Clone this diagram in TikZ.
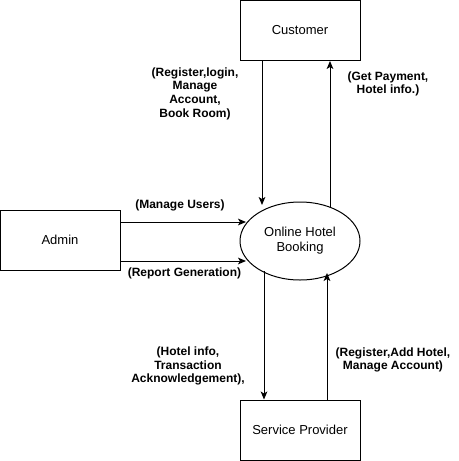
\documentclass[tikz,border=0pt]{standalone}
\usepackage{fontspec}
\setmainfont{Liberation Sans}
\usetikzlibrary{arrows.meta,shapes.geometric}
\begin{document}
\begin{tikzpicture}[x=0.75pt,y=-0.75pt,
  box/.style={draw,line width=0.75pt,minimum width=90pt,minimum height=45pt,inner sep=0pt,font=\fontsize{9.75pt}{11.7pt}\selectfont},
  proc/.style={draw,ellipse,line width=0.75pt,minimum width=90pt,minimum height=58.5pt,inner sep=0pt,align=center,font=\fontsize{9.75pt}{11.25pt}\selectfont},
  lbl/.style={align=center,inner sep=0pt,font=\fontsize{9pt}{10.3pt}\selectfont\bfseries},
  arr/.style={line width=0.75pt,-{Stealth[length=6pt,width=5pt,inset=1.5pt]}}]
\useasboundingbox (0,0) rectangle (458,461);
\node[box] (cust) at (300,30.5) {Customer};
\node[box] (admin) at (60,240) {Admin};
\node[box] (sp) at (300,430) {Service Provider};
\node[proc] (ohb) at (300,241) {Online Hotel\\Booking};
\coordinate (c1) at (262,205);
\coordinate (c2) at (330,207);
\coordinate (a1) at (246,222);
\coordinate (a2) at (246,261);
\coordinate (s1) at (264,271);
\coordinate (s2) at (327,273);
\draw[arr] (cust.south -| c1) -- (c1);
\draw[arr] (c2) -- (cust.south -| c2);
\draw[arr] (admin.east |- a1) -- (a1);
\draw[arr] (admin.east |- a2) -- (a2);
\draw[arr] (s1) -- (sp.north -| s1);
\draw[arr] (sp.north -| s2) -- (s2);
\node[lbl] (l1) at (195,93.5) {(Register,login,\\Manage\\Account,\\Book Room)};
\node[lbl] (l2) at (388,84) {(Get Payment,\\Hotel info.)};
\node[lbl] (l3) at (180,205) {(Manage Users)};
\node[lbl] (l4) at (184.5,273) {(Report Generation)};
\node[lbl] (l5) at (188,366) {(Hotel info,\\Transaction\\Acknowledgement),};
\node[lbl] (l6) at (393,360) {(Register,Add Hotel,\\Manage Account)};
\end{tikzpicture}
\end{document}
